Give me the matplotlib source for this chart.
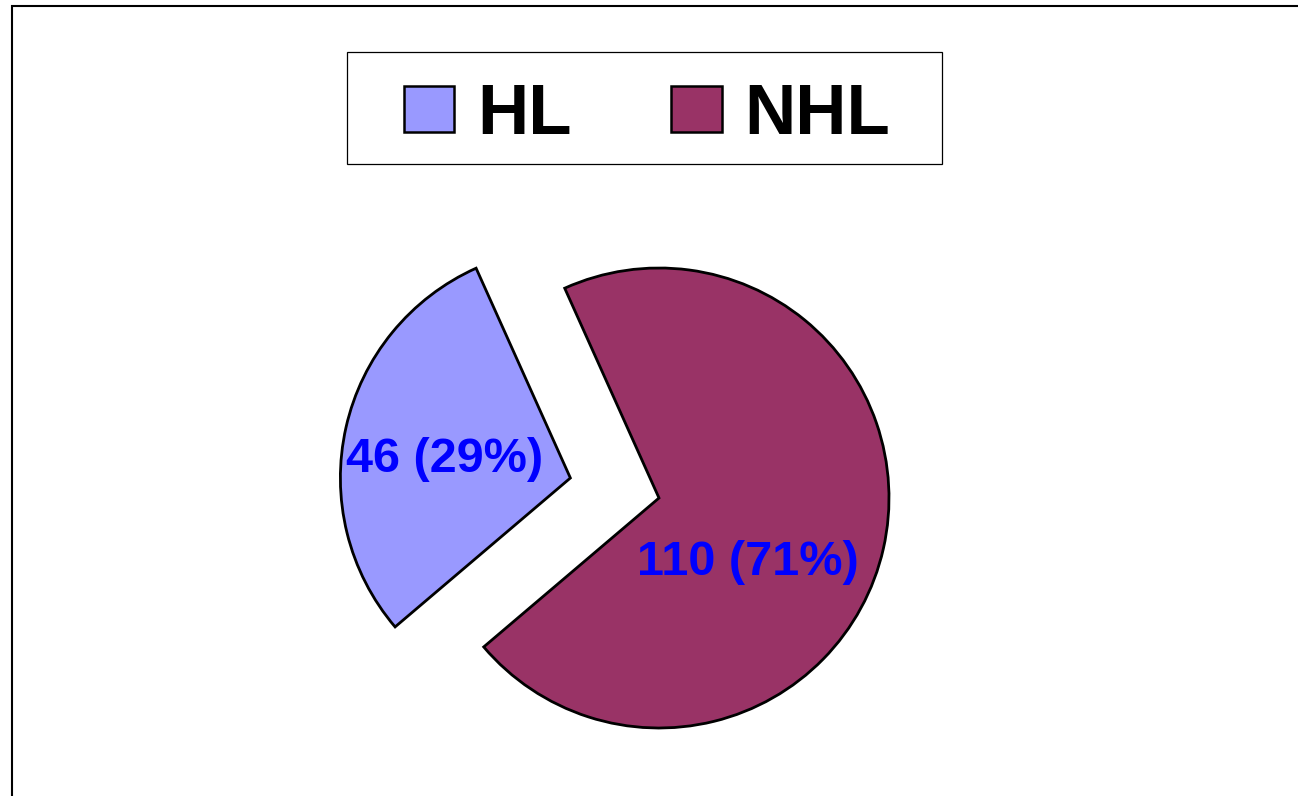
import numpy as np
import matplotlib
matplotlib.use("Agg")
import matplotlib.pyplot as plt
from matplotlib.patches import Rectangle, Patch

plt.rcParams['font.family'] = ['Liberation Sans', 'DejaVu Sans']
plt.rcParams['font.weight'] = 'bold'

labels = ["HL", "NHL"]
counts = [46, 110]
colors = ["#9999FF", "#993366"]
explode = [0.395, 0.0]

# label placement (angle in degrees, distance in radii) from each wedge centre
label_angle = [171.5, 324.0]
label_dist = [0.555, 0.48]

W, H = 1298, 796
R = 230.0          # pie radius in pixels
cx, cy = 659, 498  # pie centre in pixels (from top-left)

fig = plt.figure(figsize=(W / 100, H / 100), dpi=100)
ax = fig.add_axes([0, 0, 1, 1])

total = sum(counts)
wedges, _ = ax.pie(counts, colors=colors, explode=explode, startangle=114.2,
                   counterclock=True,
                   wedgeprops=dict(edgecolor="black", linewidth=2.0))

ax.set_xlim(-cx / R, (W - cx) / R)
ax.set_ylim(-(H - cy) / R, cy / R)
ax.set_aspect('auto')
ax.axis('off')

for w, n, a, d in zip(wedges, counts, label_angle, label_dist):
    x0, y0 = w.center
    x = x0 + d * np.cos(np.radians(a))
    y = y0 + d * np.sin(np.radians(a))
    ax.text(x, y, f"{n} ({n / total:.0%})", ha='center', va='center',
            color="#0000FF", fontsize=35, fontweight='bold')

# legend
handles = [Patch(facecolor=c, edgecolor="black", linewidth=1.8) for c in colors]
leg = fig.legend(handles, labels, loc='center', ncol=2, frameon=False,
                 bbox_to_anchor=(647 / W, 1 - 116 / H), fontsize=51,
                 handlelength=0.71, handleheight=0.62, handletextpad=0.32,
                 columnspacing=1.41, borderpad=0.2)
for t in leg.get_texts():
    t.set_fontweight('bold')

fig.patches.append(Rectangle((347 / W, 1 - 164 / H), 595 / W, 112 / H,
                             transform=fig.transFigure, fill=False,
                             edgecolor="black", linewidth=0.9))

# outer frame (only top and left edges visible)
fig.patches.append(Rectangle((12 / W, -0.1), 1.2, 1.1 - 6 / H,
                             transform=fig.transFigure, fill=False,
                             edgecolor="black", linewidth=1.5))

fig.savefig("out.png", dpi=100)
